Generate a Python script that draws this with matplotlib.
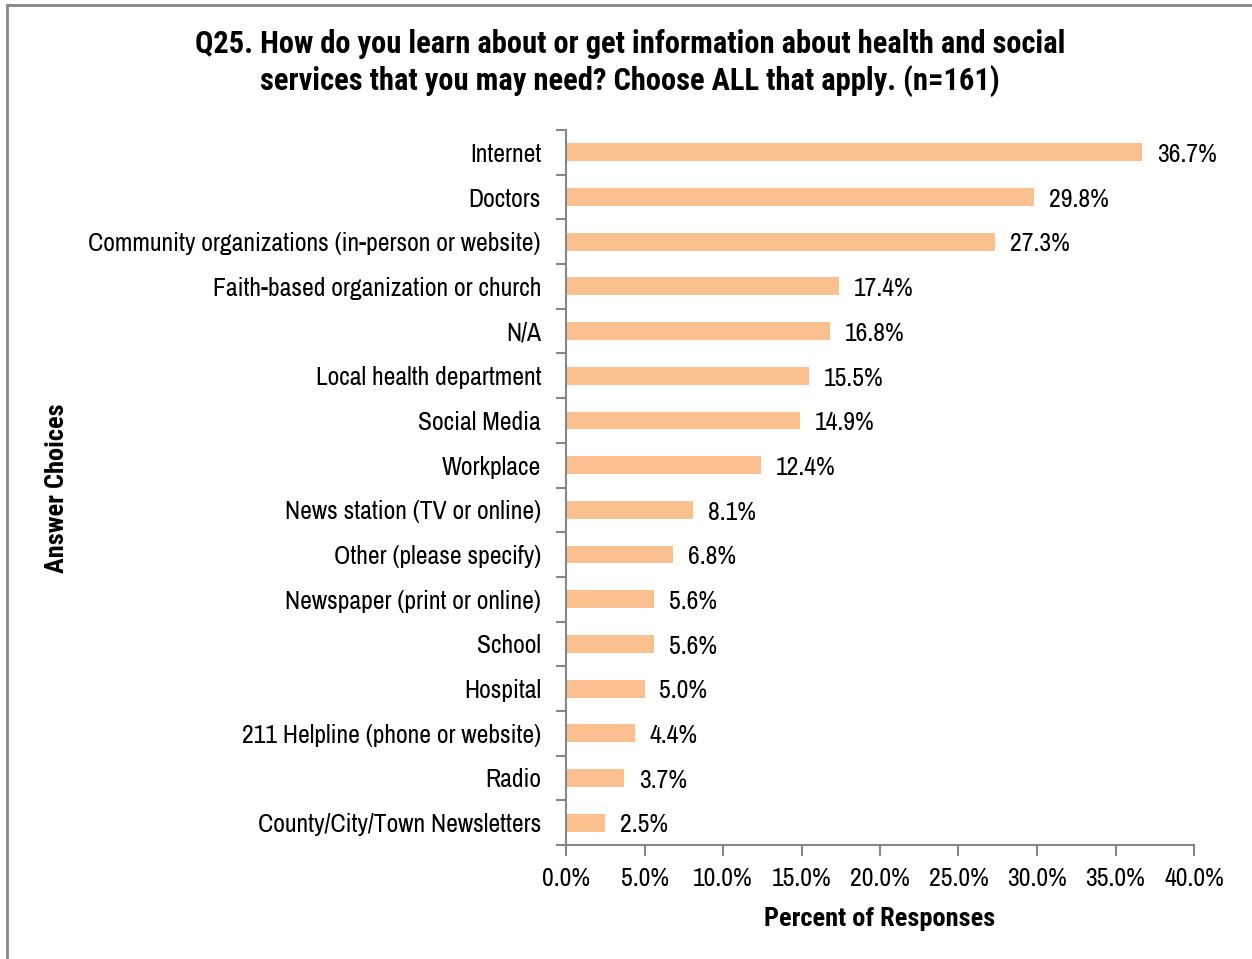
import matplotlib
matplotlib.use("Agg")
import matplotlib.pyplot as plt
from matplotlib.patches import Rectangle
from matplotlib.ticker import FixedLocator

categories = [
    "Internet", "Doctors", "Community organizations (in-person or website)",
    "Faith-based organization or church", "N/A", "Local health department",
    "Social Media", "Workplace", "News station (TV or online)",
    "Other (please specify)", "Newspaper (print or online)", "School",
    "Hospital", "211 Helpline (phone or website)", "Radio",
    "County/City/Town Newsletters",
]
values = [36.7, 29.8, 27.3, 17.4, 16.8, 15.5, 14.9, 12.4, 8.1, 6.8, 5.6, 5.6, 5.0, 4.4, 3.7, 2.5]
xticks = [0, 5, 10, 15, 20, 25, 30, 35, 40]

FONT = ["Liberation Sans Narrow", "Archivo Narrow", "DejaVu Sans"]
BOLD = ["Liberation Sans Narrow", "Roboto Condensed", "Barlow Semi Condensed", "DejaVu Sans"]
plt.rcParams['font.family'] = FONT

W, H = 1252, 959
fig = plt.figure(figsize=(W / 100, H / 100), dpi=100)
ax = fig.add_axes([566 / W, 1 - 845 / H, (1194 - 566) / W, (845 - 130) / H])

n = len(categories)
ypos = list(range(n))
ax.barh(ypos, values, height=0.4, color="#FAC090", zorder=2)
ax.set_ylim(n - 0.5, -0.5)
ax.set_xlim(0, 40)

FS = 18.5
for y, v in zip(ypos, values):
    ax.text(v + 0.95, y + 0.05, f"{v:.1f}%", va="center", ha="left", fontsize=FS, color="black")

ax.set_yticks(ypos)
ax.set_yticklabels(categories, fontsize=FS)
ax.yaxis.set_minor_locator(FixedLocator([i - 0.5 for i in range(n + 1)]))
ax.tick_params(axis="y", which="major", length=0, pad=18)
ax.tick_params(axis="y", which="minor", length=7, width=1.5, color="#868686", direction="out")

ax.set_xticks(xticks)
ax.set_xticklabels([f"{t:.1f}%" for t in xticks], fontsize=FS)
ax.tick_params(axis="x", which="major", length=8, width=1.5, color="#868686", direction="out", pad=8)

for s in ["top", "right"]:
    ax.spines[s].set_visible(False)
for s in ["left", "bottom"]:
    ax.spines[s].set_color("#868686")
    ax.spines[s].set_linewidth(1.5)

ax.set_xlabel("Percent of Responses", fontsize=19, fontweight="bold", family=BOLD, labelpad=12)
fig.text(57 / W, 1 - 488 / H, "Answer Choices", rotation=90, fontsize=19,
         fontweight="bold", family=BOLD, ha="center", va="center")

fig.text(630 / W, 1 - 63 / H,
         "Q25. How do you learn about or get information about health and social\nservices that you may need? Choose ALL that apply. (n=161)",
         ha="center", va="center", fontsize=22, fontweight="bold", family=BOLD, linespacing=1.22)

fig.patches.append(Rectangle((7 / W, -0.05), 1.1, 1 - 5 / H + 0.05, transform=fig.transFigure,
                             fill=False, edgecolor="#868686", linewidth=2))

fig.savefig("out.png", dpi=100)
